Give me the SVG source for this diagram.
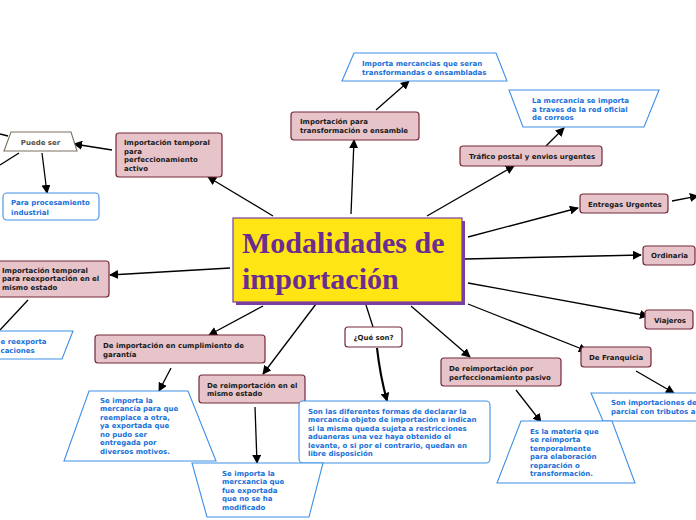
<svg xmlns="http://www.w3.org/2000/svg" width="696" height="520" viewBox="0 0 696 520">
<defs>
<marker id="ah" viewBox="0 0 10 10" refX="9" refY="5" markerWidth="9" markerHeight="9" markerUnits="userSpaceOnUse" orient="auto">
<path d="M0,0 L10,5 L0,10 z" fill="#000"/>
</marker>
<style>
.n rect{fill:#e6c4c9;stroke:#74283a;stroke-width:1.2}
.n text,.q text{font-family:"DejaVu Sans",Verdana,sans-serif;font-weight:bold;font-size:7px;fill:#1a1a1a}
.b rect,.b path{fill:#fff;stroke:#3f8fe6;stroke-width:1.1}
.b text{font-family:"DejaVu Sans",Verdana,sans-serif;font-weight:bold;font-size:7px;fill:#1870d8}
.c line,.c path{stroke:#000;stroke-width:1.3;fill:none}
.c .a{marker-end:url(#ah)}
</style>
</defs>
<rect width="696" height="520" fill="#fff"/>

<g class="c" id="connectors">
<line class="a" x1="273" y1="216" x2="208" y2="177"/>
<line class="a" x1="351" y1="214" x2="354" y2="140"/>
<line class="a" x1="427" y1="216" x2="514" y2="166"/>
<line class="a" x1="468" y1="237" x2="578" y2="208"/>
<line class="a" x1="465" y1="259" x2="641" y2="255"/>
<line class="a" x1="468" y1="283" x2="648" y2="316"/>
<line class="a" x1="468" y1="304" x2="587" y2="351"/>
<line class="a" x1="411" y1="306" x2="470" y2="357"/>
<line x1="366" y1="305" x2="373" y2="327"/>
<line class="a" x1="316" y1="304" x2="263" y2="374"/>
<line class="a" x1="263" y1="306" x2="209" y2="335"/>
<line class="a" x1="230" y1="268" x2="110" y2="275"/>
<line class="a" x1="112" y1="150" x2="74" y2="144"/>
<line class="a" x1="42" y1="153" x2="47" y2="193"/>
<line x1="8" y1="136" x2="0" y2="134"/>
<line x1="19" y1="153" x2="0" y2="165"/>
<line class="a" x1="376" y1="110" x2="409" y2="81"/>
<line class="a" x1="546" y1="146" x2="564" y2="128"/>
<line class="a" x1="672" y1="201" x2="698" y2="196"/>
<line class="a" x1="636" y1="371" x2="674" y2="393"/>
<line class="a" x1="516" y1="390" x2="541" y2="422"/>
<path class="a" d="M377,348 Q380,375 387,401" style="stroke-width:2.2"/>
<line class="a" x1="255" y1="407" x2="257" y2="463"/>
<line class="a" x1="171" y1="368" x2="159" y2="391"/>
<line x1="28" y1="300" x2="0" y2="330"/>
</g>

<g id="central">
<rect x="236" y="221" width="229" height="84" fill="#7a3fa0"/>
<rect x="233" y="218" width="229" height="84" fill="#ffe514" stroke="#7a3fa0" stroke-width="1.2"/>
<text font-family="'Liberation Serif','Times New Roman',serif" font-weight="bold" font-size="30" fill="#6a2c91"><tspan x="242" y="253">Modalidades de</tspan><tspan x="242" y="289">importación</tspan></text>
</g>

<g class="n" id="n-perfeccionamiento-activo">
<rect x="116" y="133" width="106" height="44" rx="3"/>
<text><tspan x="124" y="145">Importación temporal</tspan><tspan x="124" y="153.5">para</tspan><tspan x="124" y="162">perfeccionamiento</tspan><tspan x="124" y="170.5">activo</tspan></text>
</g>
<g class="n" id="n-transformacion">
<rect x="291" y="112" width="128" height="28" rx="3"/>
<text><tspan x="300" y="124">Importación para</tspan><tspan x="300" y="133">transformación o ensamble</tspan></text>
</g>
<g class="n" id="n-trafico">
<rect x="460" y="146" width="142" height="20" rx="3"/>
<text x="469" y="159">Tráfico postal y envios urgentes</text>
</g>
<g class="n" id="n-entregas">
<rect x="580" y="194" width="88" height="19" rx="3"/>
<text x="588" y="207">Entregas Urgentes</text>
</g>
<g class="n" id="n-ordinaria">
<rect x="643" y="246" width="52" height="19" rx="3"/>
<text x="651" y="258">Ordinaria</text>
</g>
<g class="n" id="n-viajeros">
<rect x="645" y="310" width="48" height="19" rx="3"/>
<text x="654" y="323">Viajeros</text>
</g>
<g class="n" id="n-franquicia">
<rect x="581" y="347" width="70" height="20" rx="3"/>
<text x="589" y="360">De Franquicia</text>
</g>
<g class="n" id="n-pasivo">
<rect x="441" y="358" width="120" height="28" rx="3"/>
<text><tspan x="449" y="370.5">De reimportación por</tspan><tspan x="449" y="379.5">perfeccionamiento pasivo</tspan></text>
</g>
<g class="q" id="n-queson">
<rect x="345" y="327" width="57" height="20" rx="3" fill="#fff" stroke="#74283a" stroke-width="1.2"/>
<text x="373.5" y="340" text-anchor="middle">¿Qué son?</text>
</g>
<g class="n" id="n-mismo-estado">
<rect x="199" y="375" width="106" height="28" rx="3"/>
<text><tspan x="207" y="387.5">De reimportación en el</tspan><tspan x="207" y="396">mismo estado</tspan></text>
</g>
<g class="n" id="n-garantia">
<rect x="95" y="335" width="170" height="28" rx="3"/>
<text><tspan x="103" y="347.5">De importación en cumplimiento de</tspan><tspan x="103" y="356.5">garantía</tspan></text>
</g>
<g class="n" id="n-reexportacion">
<rect x="-5" y="261" width="114" height="36" rx="3"/>
<text><tspan x="2" y="272.5">Importación temporal</tspan><tspan x="2" y="281">para reexportación en el</tspan><tspan x="2" y="289.5">mismo estado</tspan></text>
</g>
<g id="n-puede-ser">
<path d="M11,132 L71,132 L77,151 L4,151 z" fill="#fff" stroke="#7a7060" stroke-width="1.1"/>
<text x="40.5" y="145" text-anchor="middle" font-family="'DejaVu Sans',Verdana,sans-serif" font-weight="bold" font-size="7" fill="#5a5046">Puede ser</text>
</g>

<g class="b" id="b-procesamiento">
<rect x="3" y="193" width="96" height="27" rx="4"/>
<text><tspan x="11" y="205">Para procesamiento</tspan><tspan x="11" y="214.5">industrial</tspan></text>
</g>
<g class="b" id="b-importa">
<path d="M354,53 L496,53 L507,81 L342,81 z"/>
<text><tspan x="362" y="66">Importa mercancias que seran</tspan><tspan x="362" y="75">transformandas o ensambladas</tspan></text>
</g>
<g class="b" id="b-correos">
<path d="M509,90 L659,90 L644,127 L523,127 z"/>
<text><tspan x="532" y="103">La mercancia se importa</tspan><tspan x="532" y="111.5">a traves de la red oficial</tspan><tspan x="532" y="120">de correos</tspan></text>
</g>
<g class="b" id="b-franquicia">
<path d="M591,393 L700,393 L700,421 L603,421 z"/>
<text><tspan x="611" y="405">Son importaciones de</tspan><tspan x="611" y="414">parcial con tributos a</tspan></text>
</g>
<g class="b" id="b-pasivo">
<path d="M521,421 L612,421 L635,483 L497,483 z"/>
<text><tspan x="530" y="433.5">Es la materia que</tspan><tspan x="530" y="442">se reimporta</tspan><tspan x="530" y="450.5">temporalmente</tspan><tspan x="530" y="459">para elaboración</tspan><tspan x="530" y="467.5">reparación    o</tspan><tspan x="530" y="476">transformación.</tspan></text>
</g>
<g class="b" id="b-queson">
<rect x="299" y="401" width="191" height="62" rx="4"/>
<text><tspan x="308" y="413.5">Son las diferentes formas de declarar la</tspan><tspan x="308" y="422">mercancía objeto de importación e indican</tspan><tspan x="308" y="430.5">si la misma queda sujeta a restricciones</tspan><tspan x="308" y="439">aduaneras una vez haya obtenido el</tspan><tspan x="308" y="447.5">levante, o si por el contrario, quedan en</tspan><tspan x="308" y="456">libre disposición</tspan></text>
</g>
<g class="b" id="b-mismo-estado">
<path d="M192,463 L323,463 L309,517 L207,517 z"/>
<text><tspan x="222" y="475.5">Se importa la</tspan><tspan x="222" y="484">mercxancia que</tspan><tspan x="222" y="492.5">fue exportada</tspan><tspan x="222" y="501">que no se ha</tspan><tspan x="222" y="509.5">modificado</tspan></text>
</g>
<g class="b" id="b-garantia">
<path d="M89,391 L188,391 L216,461 L64,461 z"/>
<text><tspan x="100" y="402.5">Se importa la</tspan><tspan x="100" y="411">mercancía para que</tspan><tspan x="100" y="419.5">reemplace a otra,</tspan><tspan x="100" y="428">ya exportada que</tspan><tspan x="100" y="436.5">no pudo ser</tspan><tspan x="100" y="445">entregada por</tspan><tspan x="100" y="453.5">diversos motivos.</tspan></text>
</g>
<g class="b" id="b-reexportacion">
<path d="M-10,331 L73,331 L62,359 L-10,359 z"/>
<text><tspan x="0.5" y="344">e reexporta</tspan><tspan x="0.5" y="353">caciones</tspan></text>
</g>
</svg>
